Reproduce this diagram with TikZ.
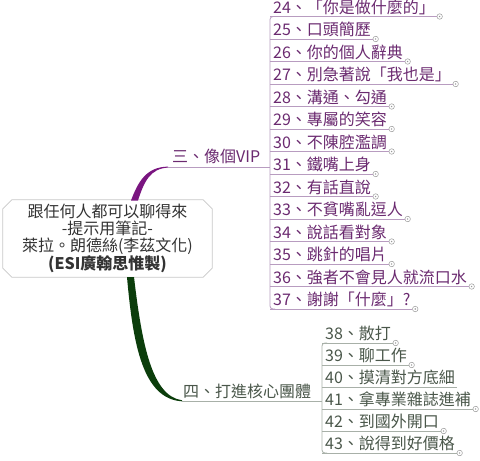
\documentclass[tikz,border=0pt]{standalone}
\usepackage{fontspec}
\setmainfont{Noto Sans CJK TC}
\usetikzlibrary{calc}
\definecolor{pline}{HTML}{7A1580}
\definecolor{ptext}{HTML}{6B2A70}
\definecolor{pul}{HTML}{B89CC0}
\definecolor{gline}{HTML}{0B3D0B}
\definecolor{gtext}{HTML}{4A574A}
\definecolor{gul}{HTML}{A8B0A8}
\definecolor{boxc}{HTML}{C8C8C8}
\definecolor{boxt}{HTML}{333333}
\definecolor{circc}{HTML}{999999}
\begin{document}
\begin{tikzpicture}[x=1pt,y=-1pt,
  ptxt/.style={inner sep=0pt,text=ptext,font=\fontsize{16}{18}\selectfont},
  gtxt/.style={inner sep=0pt,text=gtext,font=\fontsize{16}{18}\selectfont},
  circ/.style={circle,draw=circc,fill=white,inner sep=0pt,minimum size=5.5pt,line width=0.5pt,
    path picture={\fill[circc] (path picture bounding box.center) circle[radius=0.8pt];}},
  centralbox/.style={rectangle,minimum width=209pt,minimum height=77pt,inner sep=0pt,
    align=center,text=boxt,font=\fontsize{16}{16.7}\selectfont},
  boxline/.style={draw=boxc,fill=white,line width=0.8pt}]
\useasboundingbox (0,0) rectangle (480,461);
\fill[white] (0,0) rectangle (480,461);

% central topic
\node[centralbox] (c) at (107.5,238.5) {};
\path[boxline] ($(c.north west)+(9,0)$) -- ($(c.north east)+(-9,0)$) -- ($(c.north east)+(0,9)$)
  -- ($(c.south east)+(0,-9)$) -- ($(c.south east)+(-9,0)$) -- ($(c.south west)+(9,0)$)
  -- ($(c.south west)+(0,-9)$) -- ($(c.north west)+(0,9)$) -- cycle;
\node[centralbox] (ct) at (c.center) {跟任何人都可以聊得來\\-提示用筆記-\\萊拉。朗德絲(李茲文化)\\\textbf{(ESI廣翰思惟製)}};

% purple main branch
\coordinate (pc) at (168,167);
\coordinate (pj) at (270,167);
\fill[pline] (131,200.5) .. controls (138,182) and (146,167) .. (168,166.6)
  -- (168,167.6) .. controls (150,168.5) and (144,182) .. (138,200.5) -- cycle;
\draw[pul,line width=1pt] (pc) -- (pj);
\node[inner sep=0pt,anchor=base west,text=ptext,font=\fontsize{16}{18}\selectfont] (b3) at (172,162) {三、像個VIP};

% purple items
\foreach \i/\t [count=\k from 0] in {24/{「你是做什麼的」},25/口頭簡歷,26/你的個人辭典,27/{別急著說「我也是」},28/溝通、勾通,29/專屬的笑容,30/不陳腔濫調,31/鐵嘴上身,32/有話直說,33/不貧嘴亂逗人,34/說話看對象,35/跳針的唱片,36/強者不會見人就流口水,37/{謝謝「什麼」?}}{
  \pgfmathsetmacro{\yy}{16.5+22.5*\k}
  \coordinate (u\i) at (270,\yy);
  \node[ptxt,anchor=base west] (n\i) at (273,\yy-3.5) {\i、\t};
  \node[circ] (k\i) at ($(n\i.east |- u\i)+(4.5,0)$) {};
  \draw[pul,line width=0.8pt] (u\i) -- (k\i);
}
\draw[pul,line width=0.8pt,rounded corners=3pt] ($(u24)+(5,0)$) -- (u24) -- (u37) -- ($(u37)+(5,0)$);

% green main branch
\coordinate (gc) at (182,401);
\coordinate (gj) at (322,401);
\fill[gline] (127,277) .. controls (133,345) and (143,399) .. (182,401.3)
  -- (182,400.3) .. controls (152,396) and (142,345) .. (134,277) -- cycle;
\draw[gul,line width=1pt] (gc) -- (gj);
\node[inner sep=0pt,anchor=base west,text=gtext,font=\fontsize{16}{18}\selectfont] (b4) at (183,397) {四、打進核心團體};

% green items
\foreach \i/\t/\kk in {38/散打/0,39/聊工作/1,41/拿專業雜誌進補/3,42/到國外開口/4,43/說得到好價格/5}{
  \pgfmathsetmacro{\yy}{343+22*\kk}
  \coordinate (u\i) at (322,\yy);
  \node[gtxt,anchor=base west] (n\i) at (325,\yy-3.5) {\i、\t};
  \node[circ] (k\i) at ($(n\i.east |- u\i)+(4.5,0)$) {};
  \draw[gul,line width=0.8pt] (u\i) -- (k\i);
}
\coordinate (u40) at (322,387);
\node[gtxt,anchor=base west] (n40) at (325,383.5) {40、摸清對方底細};
\draw[gul,line width=0.8pt] (u40) -- ($(n40.east |- u40)+(2,0)$);
\draw[gul,line width=0.8pt,rounded corners=3pt] ($(u38)+(5,0)$) -- (u38) -- (u43) -- ($(u43)+(5,0)$);
\end{tikzpicture}
\end{document}
